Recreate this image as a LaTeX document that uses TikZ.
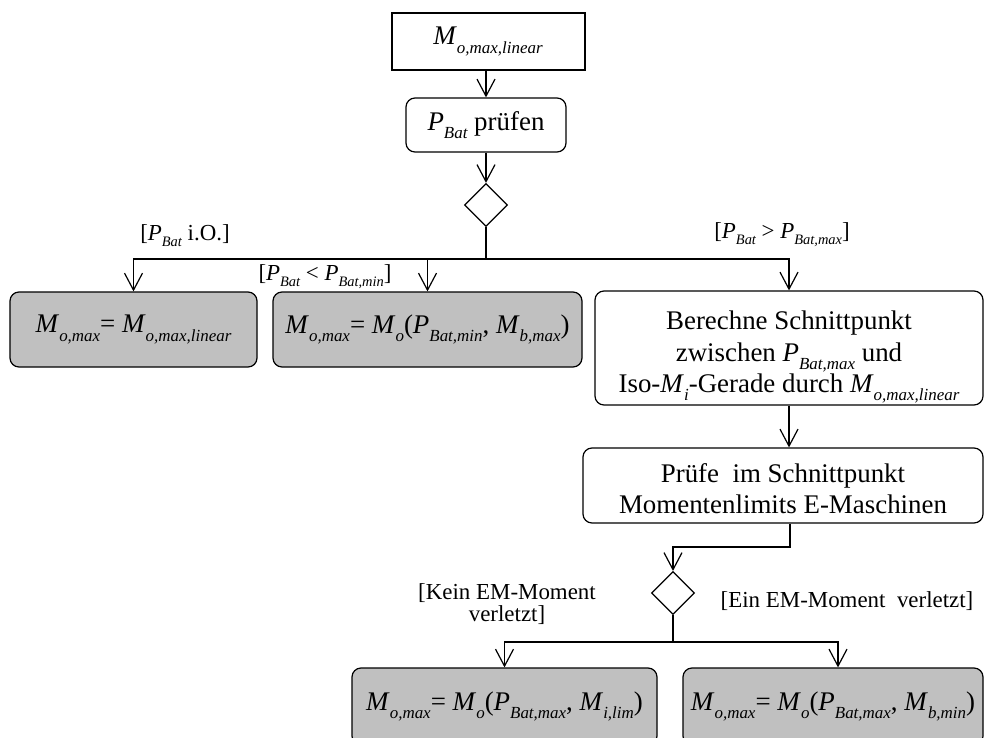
\documentclass[tikz,border=0pt]{standalone}
\usepackage{fontspec}
\setmainfont{Liberation Serif}
\usetikzlibrary{arrows.meta,shapes.geometric}
\definecolor{boxgray}{RGB}{192,192,192}
% italic, lowered, reduced-size index text
\makeatletter
\newcommand{\isub}[1]{\raisebox{-0.3em}{\fontsize{\strip@pt\dimexpr0.63\dimexpr\f@size pt\relax\relax}{0}\selectfont\itshape #1}}
\makeatother
\begin{document}
\begin{tikzpicture}[x=1bp,y=-1bp,
  every node/.style={inner sep=0pt},
  box/.style={draw, line width=1.2bp, rounded corners=9bp, align=center,
    font=\fontsize{27}{31}\selectfont},
  res/.style={box, fill=boxgray},
  dec/.style={draw, diamond, line width=1.2bp, minimum width=43bp,
    minimum height=43bp, inner sep=0pt},
  flow/.style={line width=1.2bp},
  arr/.style={flow, -{Straight Barb[length=17bp,width=18bp]}},
  guard/.style={font=\fontsize{23}{22}\selectfont, align=center}
]
\clip (0,0) rectangle (985,738);

% start and check of battery power
\node[draw, line width=2bp, minimum width=193bp, minimum height=57bp,
  font=\fontsize{27}{31}\selectfont] (top) at (488,41.5) {\textit{M}\isub{o,max,linear}};
\node[box, minimum width=160bp, minimum height=54bp] (pb) at (486,125)
  {\textit{P}\isub{Bat} prüfen};
\node[dec] (d1) at (486,205) {};

% first branching
\node[res, minimum width=247bp, minimum height=75bp] (l1) at (133.5,329.5)
  {\textit{M}\isub{o,max}= \textit{M}\isub{o,max,linear}};
\node[res, minimum width=309bp, minimum height=75bp] (l2) at (427.5,329.5)
  {\textit{M}\isub{o,max}= \textit{M}\isub{o}(\textit{P}\isub{Bat,min}, \textit{M}\isub{b,max})};
\node[box, minimum width=388bp, minimum height=114bp] (rb) at (789,348)
  {\rule{0pt}{36bp}Berechne Schnittpunkt\\[1bp]zwischen \textit{P}\isub{Bat,max} und\\Iso-\textit{M}\isub{i}-Gerade durch \textit{M}\isub{o,max,linear}};
\node[box, minimum width=400bp, minimum height=75bp] (b4) at (783,485.5)
  {\rule{0pt}{26bp}Prüfe\ \ im Schnittpunkt\\Momentenlimits E-Maschinen};
\node[dec] (d2) at (673,593) {};

% second branching
\node[res, minimum width=305bp, minimum height=77bp] (bl) at (504.5,706.5)
  {\textit{M}\isub{o,max}= \textit{M}\isub{o}(\textit{P}\isub{Bat,max}, \textit{M}\isub{i,lim})};
\node[res, minimum width=300bp, minimum height=77bp] (br) at (833,706.5)
  {\textit{M}\isub{o,max}= \textit{M}\isub{o}(\textit{P}\isub{Bat,max}, \textit{M}\isub{b,min})};

% guards
\node[guard, anchor=base] (g1) at (185,240) {[\textit{P}\isub{Bat} i.O.]};
\node[guard, anchor=base] (g2) at (325,280) {[\textit{P}\isub{Bat} < \textit{P}\isub{Bat,min}]};
\node[guard, anchor=base] (g3) at (782,238) {[\textit{P}\isub{Bat} > \textit{P}\isub{Bat,max}]};
\node[guard] (g4) at (507,604) {[Kein EM-Moment\\verletzt]};
\node[guard, anchor=base] (g5) at (847,607) {[Ein EM-Moment\ \ verletzt]};

% connectors
\coordinate (j1) at (486,259);
\coordinate (k1) at (790,547);
\coordinate (j2) at (673,642);
\draw[arr] (pb.north |- top.south) -- (pb.north);
\draw[arr] (pb.south) -- (d1.north);
\draw[flow] (d1.south) -- (j1);
\draw[arr] (j1) -| (l1.north);
\draw[arr] (j1) -| (l2.north);
\draw[arr] (j1) -| (rb.north);
\draw[arr] (rb.south) -- (rb.south |- b4.north);
\draw[arr] (k1 |- b4.south) -- (k1) -| (d2.north);
\draw[flow] (d2.south) -- (j2);
\draw[arr] (j2) -| (bl.north);
\draw[arr] (j2) -| ([xshift=5bp]br.north);
\end{tikzpicture}
\end{document}
